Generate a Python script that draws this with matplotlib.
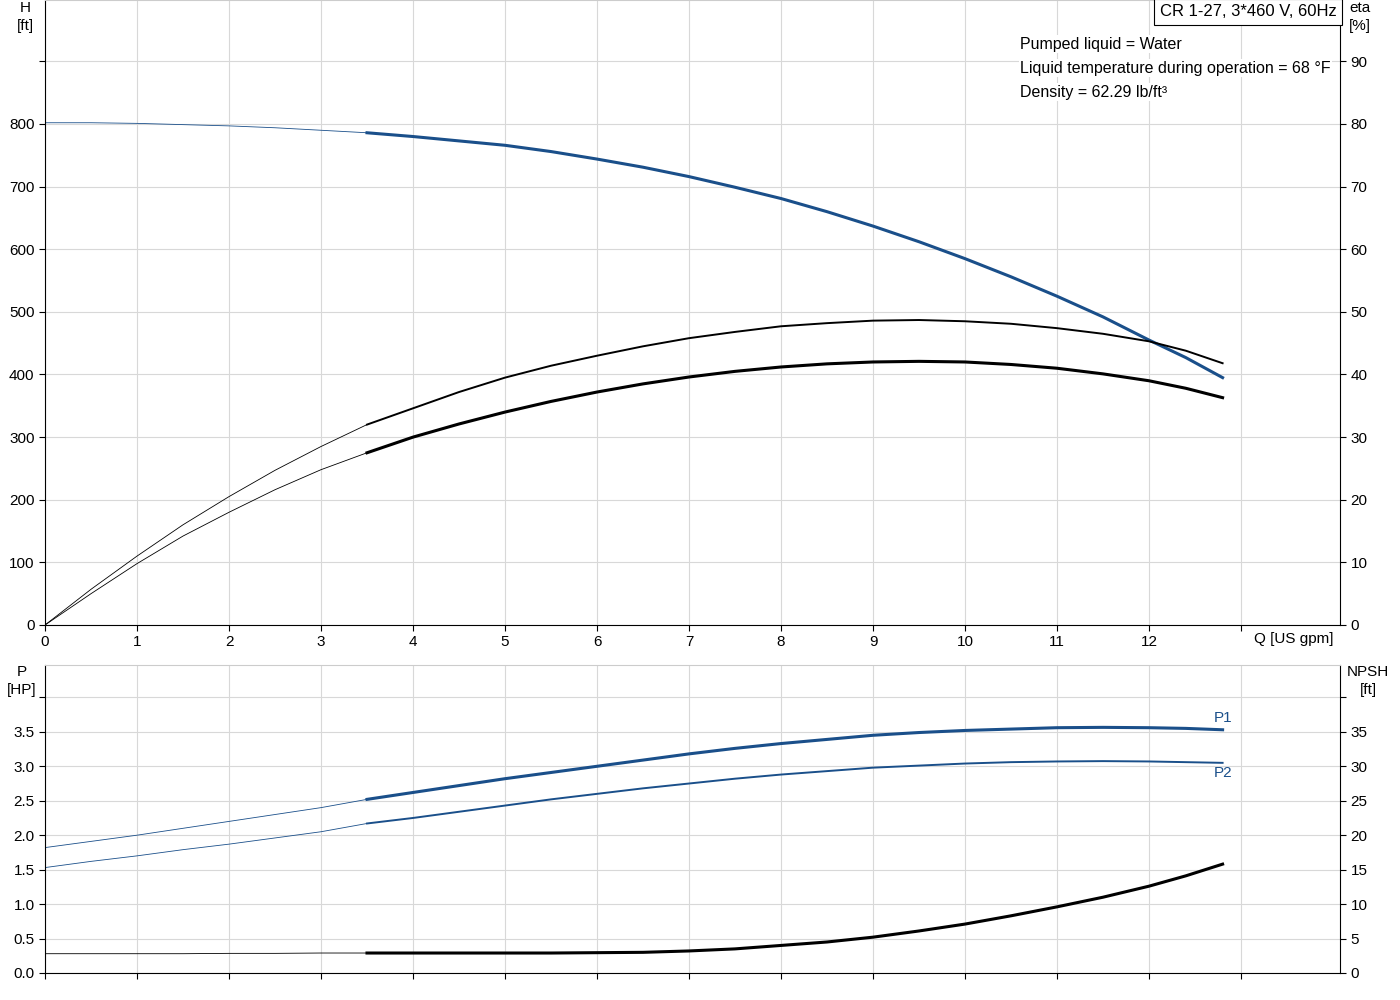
import matplotlib
matplotlib.use("Agg")
import matplotlib.pyplot as plt

plt.rcParams['font.family'] = ['Liberation Sans', 'DejaVu Sans']
BLUE = '#1a4f8a'

q = [0, 0.5, 1, 1.5, 2, 2.5, 3, 3.5, 4, 4.5, 5, 5.5, 6, 6.5, 7, 7.5, 8, 8.5, 9, 9.5, 10, 10.5, 11, 11.5, 12, 12.4, 12.8]
head = [802, 802, 801, 799, 797, 794, 790, 786, 780, 773, 766, 756, 744, 731, 716, 699, 681, 660, 637, 612, 585, 556, 525, 492, 455, 427, 395]
eta1 = [0, 5.7, 11, 16, 20.5, 24.7, 28.5, 32, 34.6, 37.2, 39.5, 41.4, 43, 44.5, 45.8, 46.8, 47.7, 48.2, 48.6, 48.7, 48.5, 48.1, 47.4, 46.5, 45.3, 43.8, 41.8]
eta2 = [0, 5.0, 9.8, 14.2, 18, 21.6, 24.8, 27.5, 30, 32.1, 34, 35.7, 37.2, 38.5, 39.6, 40.5, 41.2, 41.7, 42, 42.1, 42, 41.6, 41, 40.1, 39, 37.8, 36.3]
p1 = [1.82, 1.91, 2.0, 2.1, 2.2, 2.3, 2.4, 2.52, 2.62, 2.72, 2.82, 2.91, 3.0, 3.09, 3.18, 3.26, 3.33, 3.39, 3.45, 3.49, 3.52, 3.54, 3.56, 3.565, 3.56, 3.55, 3.53]
p2 = [1.53, 1.62, 1.7, 1.79, 1.87, 1.96, 2.05, 2.17, 2.25, 2.34, 2.43, 2.52, 2.6, 2.68, 2.75, 2.82, 2.88, 2.93, 2.98, 3.01, 3.04, 3.06, 3.07, 3.075, 3.07, 3.06, 3.05]
npsh = [2.8, 2.8, 2.8, 2.8, 2.85, 2.85, 2.9, 2.9, 2.9, 2.9, 2.9, 2.9, 2.95, 3.0, 3.2, 3.5, 4.0, 4.5, 5.2, 6.1, 7.1, 8.3, 9.6, 11.0, 12.6, 14.1, 15.8]
x_ticks = list(range(0, 13))
h_ticks = [0, 100, 200, 300, 400, 500, 600, 700, 800]
eta_ticks = [0, 10, 20, 30, 40, 50, 60, 70, 80, 90]
p_ticks = [0.0, 0.5, 1.0, 1.5, 2.0, 2.5, 3.0, 3.5]
npsh_ticks = [0, 5, 10, 15, 20, 25, 30, 35]

SPLIT = 7  # index of q = 3.5

fig = plt.figure(figsize=(14, 10), dpi=100)
W, H = 1400, 1000
ax = fig.add_axes([45/W, 1-625/H, 1295/W, 625/H])
axb = fig.add_axes([45/W, 1-973/H, 1295/W, 308/H])
XMAX = (1340-45)/92
for a in (ax, axb):
    a.set_xlim(0, XMAX)
    a.set_xticks(x_ticks + [13])
    a.grid(True, color='#d8d8d8', lw=0.8)
    a.tick_params(labelsize=11, length=4, color='black')
    for s in a.spines.values():
        s.set_color('black'); s.set_linewidth(0.8)
    a.spines['top'].set_color('#cccccc')

ax.set_ylim(0, 998)
ax.set_yticks(h_ticks + [900])
ax.set_yticklabels([str(v) for v in h_ticks] + [''])
ax.set_xticklabels([str(v) for v in x_ticks] + [''])
fig.text(1333/W, 1-639/H, 'Q [US gpm]', ha='right', va='center', fontsize=11)

def two(a, x, y, color, thick, scale=1.0):
    ys = [v*scale for v in y]
    a.plot(x[:SPLIT+1], ys[:SPLIT+1], color=color, lw=0.6)
    a.plot(x[SPLIT:], ys[SPLIT:], color=color, lw=thick)

two(ax, q, head, BLUE, 2.2)
two(ax, q, eta1, 'black', 1.4, 10)
two(ax, q, eta2, 'black', 2.2, 10)

axr = ax.twinx()
axr.set_ylim(0, 99.8)
axr.set_yticks(eta_ticks)
axr.tick_params(labelsize=11, length=4)
for s in axr.spines.values(): s.set_visible(False)

fig.text(25/W, 1-8/H, 'H', ha='center', va='center', fontsize=11)
fig.text(25/W, 1-26/H, '[ft]', ha='center', va='center', fontsize=11)
fig.text(1360/W, 1-8/H, 'eta', ha='center', va='center', fontsize=11)
fig.text(1360/W, 1-26/H, '[%]', ha='center', va='center', fontsize=11)
fig.text(1248/W, 1-12/H, 'CR 1-27, 3*460 V, 60Hz', ha='center', va='center', fontsize=12,
         bbox=dict(boxstyle='square,pad=0.35', fc='white', ec='black', lw=0.8))
for i, t in enumerate(['Pumped liquid = Water', 'Liquid temperature during operation = 68 °F', 'Density = 62.29 lb/ft³']):
    fig.text(1020/W, 1-(44+24*i)/H, t, ha='left', va='center', fontsize=11.5,
             bbox=dict(fc='white', ec='none', pad=1))

axb.set_ylim(0, 4.47)
axb.set_yticks(p_ticks + [4.0])
axb.set_yticklabels([f'{v:.1f}' for v in p_ticks] + [''])
axb.set_xticklabels([])
two(axb, q, p1, BLUE, 2.2)
two(axb, q, p2, BLUE, 1.4)
axb.plot(q, [v/10 for v in npsh], color='black', lw=0.6)
axb.plot(q[SPLIT:], [v/10 for v in npsh[SPLIT:]], color='black', lw=2.2)
axb.text(12.8, 3.6, 'P1', color=BLUE, ha='center', va='bottom', fontsize=11)
axb.text(12.8, 3.0, 'P2', color=BLUE, ha='center', va='top', fontsize=11)
axbr = axb.twinx()
axbr.set_ylim(0, 44.7)
axbr.set_yticks(npsh_ticks + [40])
axbr.set_yticklabels([str(v) for v in npsh_ticks] + [''])
axbr.tick_params(labelsize=11, length=4)
for s in axbr.spines.values(): s.set_visible(False)
fig.text(22/W, 1-672/H, 'P', ha='center', va='center', fontsize=11)
fig.text(22/W, 1-690/H, '[HP]', ha='center', va='center', fontsize=11)
fig.text(1368/W, 1-672/H, 'NPSH', ha='center', va='center', fontsize=11)
fig.text(1368/W, 1-690/H, '[ft]', ha='center', va='center', fontsize=11)

fig.savefig('out.png', dpi=100)
